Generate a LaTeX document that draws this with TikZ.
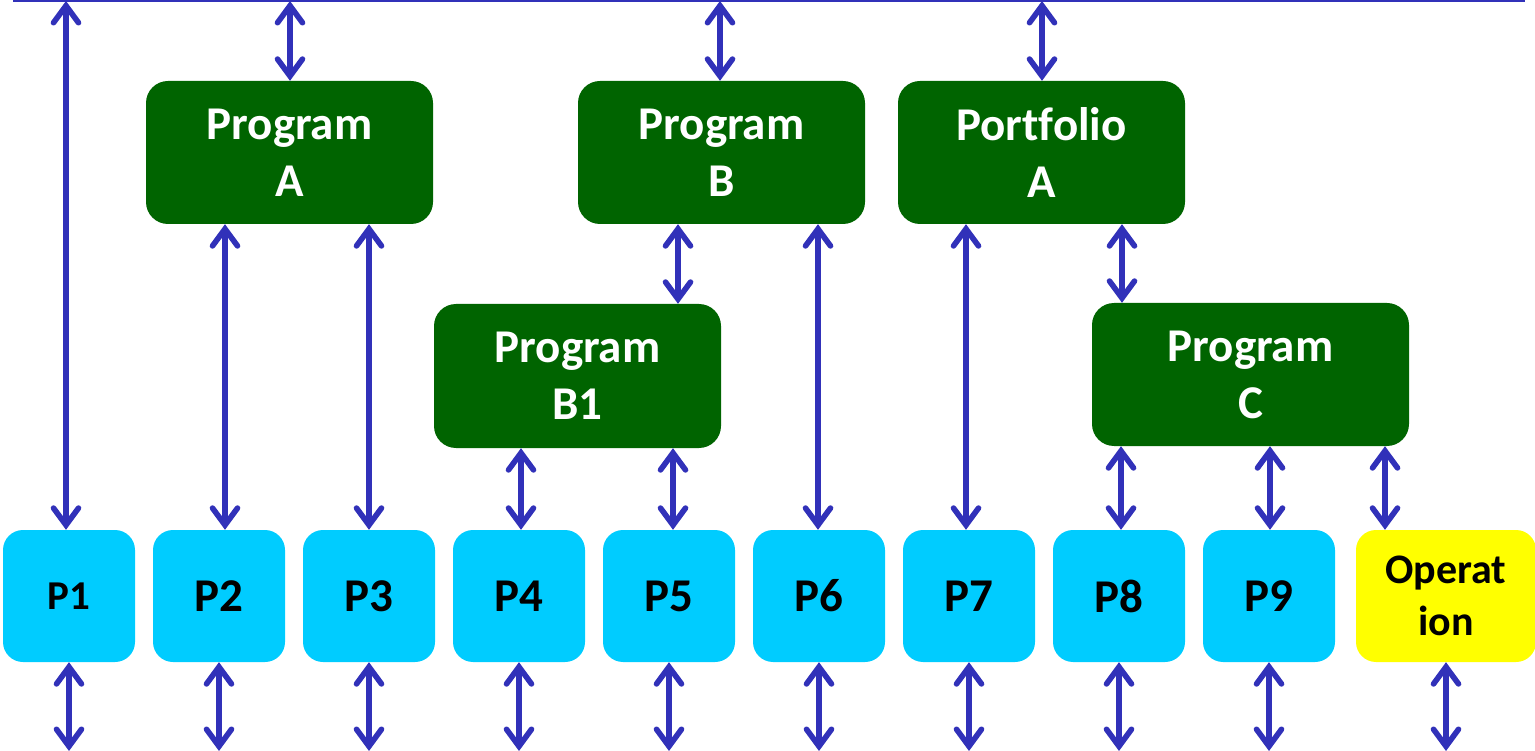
\documentclass[tikz,border=0pt]{standalone}
\usepackage{fontspec}
\setmainfont{Carlito}[Ligatures=NoCommon]
\usetikzlibrary{arrows.meta}
\definecolor{linkblue}{HTML}{3131B9}
\definecolor{progreen}{HTML}{006400}
\definecolor{projcyan}{HTML}{00CCFF}
\definecolor{opyellow}{HTML}{FFFF00}
\tikzset{
  prog/.style={rectangle, rounded corners=22pt, fill=progreen, text=white,
    font=\bfseries\fontsize{47}{57}\selectfont, align=center, inner sep=0pt},
  proj/.style={rectangle, rounded corners=20pt, fill=projcyan, text=black,
    minimum width=132pt, minimum height=132pt, inner sep=0pt,
    font=\bfseries\fontsize{47}{57}\selectfont, align=center},
  oper/.style={proj, fill=opyellow, minimum width=180pt,
    font=\bfseries\fontsize{42}{52}\selectfont},
  barb/.tip={Straight Barb[length=17pt,width=25pt,line cap=round,line join=miter]},
  link/.style={draw=linkblue, line width=5.6pt, barb-barb},
}
\begin{document}
\begin{tikzpicture}[x=1pt,y=-1pt]
\useasboundingbox (0,0) rectangle (1535,751);

% top bus
\coordinate (busL) at (13,1);
\coordinate (busR) at (1525,1);
\draw[linkblue, line width=2pt] (busL) -- (busR);

% programs and portfolio
\node[prog, minimum width=287pt, minimum height=143pt] (pa) at (289.5,152.5) {Program\\A};
\node[prog, minimum width=287pt, minimum height=143pt] (pb) at (721.5,152.5) {Program\\B};
\node[prog, minimum width=287pt, minimum height=143pt] (pf) at (1041.5,152.5) {Portfolio\\A};
\node[prog, minimum width=287pt, minimum height=144pt] (pb1) at (577.5,376) {Program\\B1};
\node[prog, minimum width=317pt, minimum height=143pt] (pc) at (1250.5,374.5) {Program\\C};

% projects
\node[proj, font=\bfseries\fontsize{41}{50}\selectfont] (p1) at (69,596) {P1};
\node[proj] (p2) at (219,596) {P2};
\node[proj] (p3) at (369,596) {P3};
\node[proj] (p4) at (519,596) {P4};
\node[proj] (p5) at (669,596) {P5};
\node[proj] (p6) at (819,596) {P6};
\node[proj] (p7) at (969,596) {P7};
\node[proj] (p8) at (1119,596) {P8};
\node[proj] (p9) at (1269,596) {P9};
\node[oper] (op) at (1446,596) {Operat\\ion};

% connector columns
\coordinate (c1) at (66,0);
\coordinate (cA) at (290,0);
\coordinate (cB) at (720,0);
\coordinate (cF) at (1042,0);
\coordinate (cA2) at (225,0);
\coordinate (cA3) at (369,0);
\coordinate (cB1) at (678,0);
\coordinate (cB6) at (818,0);
\coordinate (cB14) at (521,0);
\coordinate (cB15) at (673,0);
\coordinate (cF7) at (966,0);
\coordinate (cFC) at (1122,0);
\coordinate (cC8) at (1121,0);
\coordinate (cC9) at (1270,0);
\coordinate (cCO) at (1385,0);
\coordinate (floor) at (0,751);

% links to the top bus
\draw[link] (busL -| c1) -- (p1.north -| c1);
\draw[link] (busL -| cA) -- (pa.north -| cA);
\draw[link] (busL -| cB) -- (pb.north -| cB);
\draw[link] (busL -| cF) -- (pf.north -| cF);

% hierarchy links
\draw[link] (pa.south -| cA2) -- (p2.north -| cA2);
\draw[link] (pa.south -| cA3) -- (p3.north -| cA3);
\draw[link] (pb.south -| cB1) -- (pb1.north -| cB1);
\draw[link] (pb.south -| cB6) -- (p6.north -| cB6);
\draw[link] (pb1.south -| cB14) -- (p4.north -| cB14);
\draw[link] (pb1.south -| cB15) -- (p5.north -| cB15);
\draw[link] (pf.south -| cF7) -- (p7.north -| cF7);
\draw[link] (pf.south -| cFC) -- (pc.north -| cFC);
\draw[link] (pc.south -| cC8) -- (p8.north -| cC8);
\draw[link] (pc.south -| cC9) -- (p9.north -| cC9);
\draw[link] (pc.south -| cCO) -- (op.north -| cCO);

% links below each project
\foreach \n in {p1,p2,p3,p4,p5,p6,p7,p8,p9,op}
  \draw[link] (\n.south) -- (\n.south |- floor);
\end{tikzpicture}
\end{document}
